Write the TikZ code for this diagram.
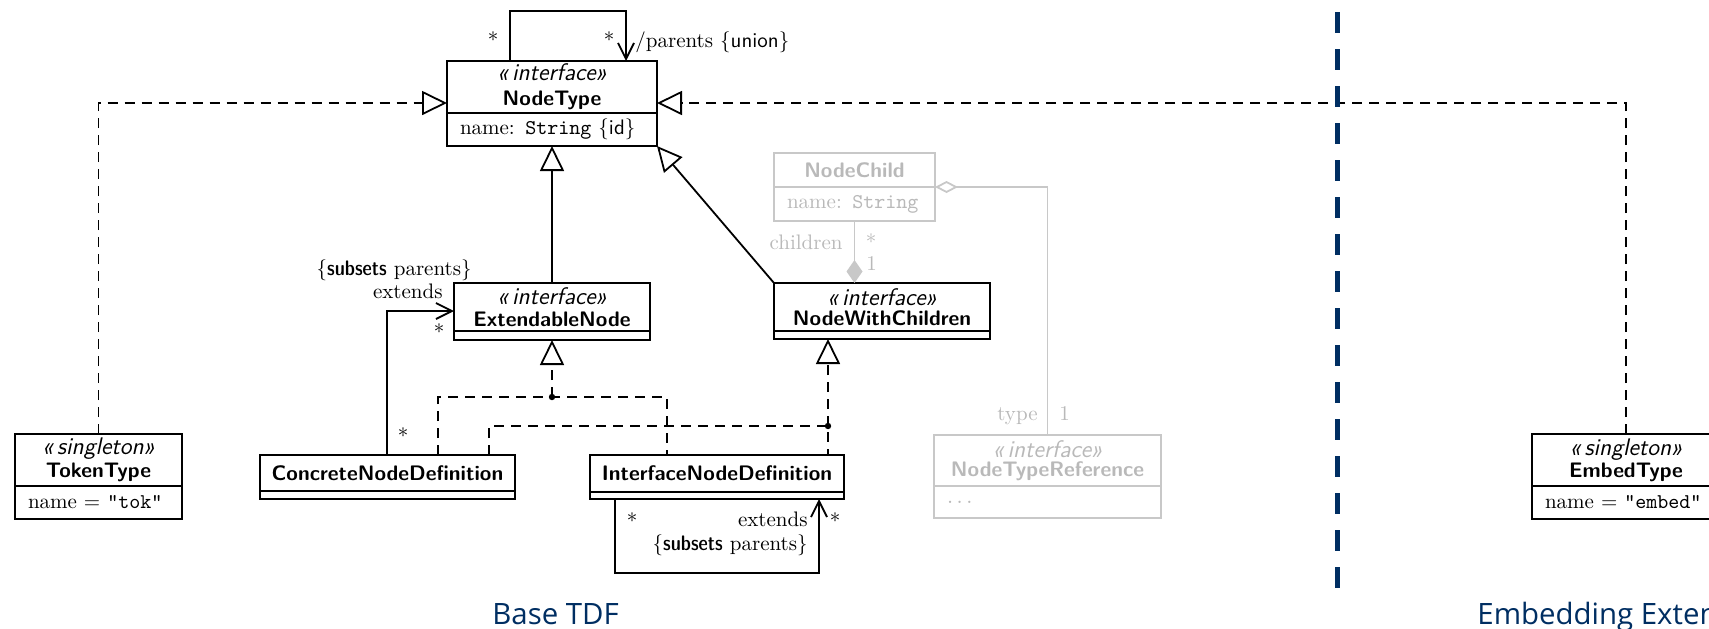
\documentclass[tikz,border=0pt]{standalone}
\usepackage{fontspec}
\newfontfamily\titlefont{Open Sans}
\usetikzlibrary{arrows.meta}

\definecolor{navy}{RGB}{0,46,98}
\definecolor{ghost}{RGB}{200,200,200}
\definecolor{ghosttext}{RGB}{185,185,185}

\newcommand{\umlstereo}[1]{{\sffamily\itshape\fontsize{12}{12.5}\selectfont «\,#1»}}
\newcommand{\umlname}[1]{{\sffamily\bfseries #1}}
\newcommand{\umlkw}[1]{{\sffamily\fontseries{sbc}\selectfont #1}}

\tikzset{
  box/.style={draw, line width=1pt, fill=white, inner sep=0pt, outer sep=0pt},
  head/.style={box, align=center, font=\fontsize{10.5}{12.5}\selectfont},
  comp/.style={box, align=left, inner xsep=6.5pt, inner ysep=0pt, text width=#1,
    font=\fontsize{10.5}{12.5}\selectfont},
  faded/.style={draw=ghost, text=ghosttext},
  conn/.style={line width=0.9pt},
  real/.style={conn, dash pattern=on 5pt off 3.5pt},
  gen/.style={-{Triangle[open,length=12.5pt,width=12pt]}},
  nav/.style={-{Straight Barb[length=8pt,width=8pt]}},
  lbl/.style={inner sep=0pt, font=\fontsize{10.5}{12.5}\selectfont},
  title/.style={inner sep=0pt, text=navy, font=\titlefont\fontsize{14.7}{17}\selectfont},
}

\begin{document}
\begin{tikzpicture}[x=0.5pt,y=-0.5pt]
\useasboundingbox (0,0) rectangle (1709,628);
\clip (0,0) rectangle (1709,628);

% ---- classes ----
\node[head, minimum width=105pt, minimum height=26pt, anchor=north] (nt) at (552,61)
  {\umlstereo{interface}\\\umlname{NodeType}};
\node[comp=92pt, minimum height=16.5pt, anchor=north] (ntA) at (nt.south)
  {name: \texttt{String} \{\textsf{id}\}};

\node[head, minimum width=83.5pt, minimum height=26pt, anchor=north] (tok) at (98.5,434)
  {\umlstereo{singleton}\\[-1pt]\umlname{TokenType}};
\node[comp=70.5pt, minimum height=16.5pt, anchor=north] (tokA) at (tok.south)
  {name = \texttt{"tok"}};

\node[head, minimum width=94pt, minimum height=26pt, anchor=north] (emb) at (1626,434)
  {\umlstereo{singleton}\\[-1.5pt]\umlname{EmbedType}};
\node[comp=81pt, minimum height=16.5pt, anchor=north] (embA) at (emb.south)
  {name = \texttt{"embed"}};

\node[head, minimum width=98pt, minimum height=24pt, anchor=north] (ext) at (552,283)
  {\umlstereo{interface}\\[-1.5pt]\umlname{ExtendableNode}};
\node[box, minimum width=98pt, minimum height=4.5pt, anchor=north] (extA) at (ext.south) {};

\node[head, minimum width=108pt, minimum height=24pt, anchor=north] (nwc) at (882,283)
  {\umlstereo{interface}\\[-2.5pt]\umlname{NodeWithChildren}};
\node[box, minimum width=108pt, minimum height=4pt, anchor=north] (nwcA) at (nwc.south) {};

\node[head, minimum width=127.5pt, minimum height=18pt, anchor=north] (cnd) at (387.5,455)
  {\umlname{ConcreteNodeDefinition}};
\node[box, minimum width=127.5pt, minimum height=4pt, anchor=north] (cndA) at (cnd.south) {};

\node[head, minimum width=127pt, minimum height=18.5pt, anchor=north] (ind) at (717,455)
  {\umlname{InterfaceNodeDefinition}};
\node[box, minimum width=127pt, minimum height=3.5pt, anchor=north] (indA) at (ind.south) {};

\node[head, faded, minimum width=80.5pt, minimum height=17pt, anchor=north] (nc) at (854.5,153)
  {\umlname{NodeChild}};
\node[comp=67.5pt, faded, minimum height=17pt, anchor=north] (ncA) at (nc.south)
  {name: \texttt{String}};

\node[head, faded, minimum width=113.5pt, minimum height=25.5pt, anchor=north] (ntr) at (1047.5,435)
  {\umlstereo{interface}\\[-3pt]\umlname{NodeTypeReference}};
\node[comp=100.5pt, faded, minimum height=16pt, anchor=north] (ntrA) at (ntr.south)
  {$\ldots$};

% ---- generalizations and realizations ----
\draw[conn, gen] (ext.north) -- (ntA.south -| ext.north);
\draw[conn, gen] (nwc.north west) -- (ntA.south east);
\draw[real, gen] (tok.north) |- (nt.west |- 0,103);
\draw[real, gen] (emb.north) |- (nt.east |- 0,103);

\coordinate (j1) at (552,397);
\coordinate (j2) at (828,426);
\draw[real] (cnd.north -| 438,0) |- (j1) -| (ind.north -| 667,0);
\draw[real, gen] (j1) -- (extA.south -| j1);
\draw[real] (cnd.north -| 489,0) |- (j2) -- (ind.north -| j2);
\draw[real, gen] (j2) -- (nwcA.south -| j2);
\fill (j1) circle[radius=1.6pt];
\fill (j2) circle[radius=1.6pt];

% ---- associations ----
\draw[conn, nav] (nt.north -| 510,0) -- (510,11) -- (626,11) -- (nt.north -| 626,0);
\node[lbl, anchor=base] (ptA) at (493,47) {*};
\node[lbl, anchor=base] (ptB) at (609,47) {*};
\node[lbl, anchor=base west] (ptC) at (635,47) {/parents \textsf{\{union\}}};

\draw[conn, nav] (cnd.north -| 387,0) |- (ext.west |- 0,311);
\node[lbl, anchor=base east] (exA) at (472,275) {\{\umlkw{subsets} parents\}};
\node[lbl, anchor=base east] (exB) at (443,298) {extends};
\node[lbl, anchor=base] (exC) at (439,339) {*};
\node[lbl, anchor=base] (exD) at (403,443) {*};

\draw[conn, nav] (indA.south -| 615,0) -- (615,573) -- (819,573) -- (indA.south -| 819,0);
\node[lbl, anchor=base] (ixA) at (632,528) {*};
\node[lbl, anchor=base] (ixB) at (835,528) {*};
\node[lbl, anchor=base east] (ixC) at (808,526) {extends};
\node[lbl, anchor=base east] (ixD) at (808,550) {\{\umlkw{subsets} parents\}};

% ---- faded part ----
\draw[conn, draw=ghost, -{Diamond[fill=ghost,length=11.5pt,width=8pt]}]
  (ncA.south) -- (nwc.north -| ncA.south);
\node[lbl, text=ghosttext, anchor=base east] (chA) at (843,249) {children};
\node[lbl, text=ghosttext, anchor=base] (chB) at (871,249) {*};
\node[lbl, text=ghosttext, anchor=base west] (chC) at (866,270) {1};

\draw[conn, draw=ghost, {Diamond[open,length=11.5pt,width=6pt]}-]
  (ncA.north east) -| (ntr.north);
\node[lbl, text=ghosttext, anchor=base east] (tyA) at (1038,420) {type};
\node[lbl, text=ghosttext, anchor=base west] (tyB) at (1059,420) {1};

% ---- section divider and titles ----
\draw[navy, line width=2.5pt, dash pattern=on 10.5pt off 8pt] (1337,12) -- (1337,594);
\node[title, anchor=base west] (tBase) at (492,624) {Base TDF};
\node[title, anchor=base west] (tEmb) at (1477,624) {Embedding Extension};
\end{tikzpicture}
\end{document}
